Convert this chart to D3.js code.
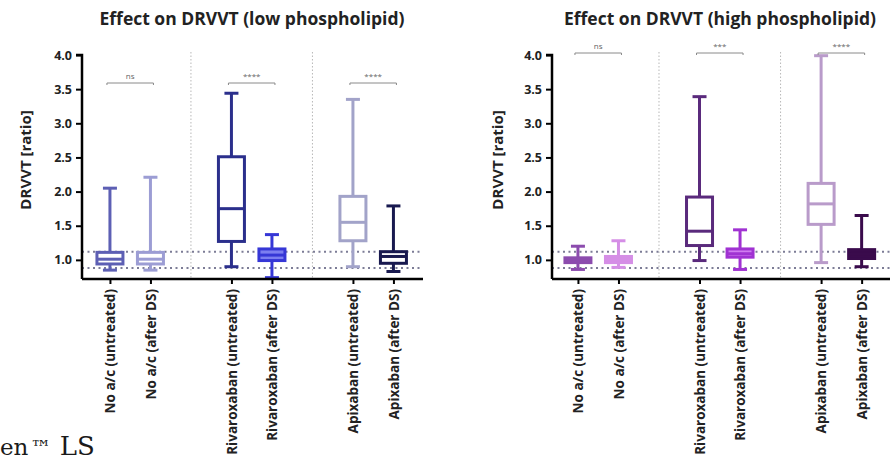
<!DOCTYPE html>
<html>
<head>
<meta charset="utf-8">
<script src="https://cdn.jsdelivr.net/npm/d3@7"></script>
<style>
  body { margin: 0; background: #fff; }
  svg { display: block; }
  .ticks text { font-family: "Open Sans", sans-serif; font-weight: 700; fill: #222; }
</style>
</head>
<body>
<div id="chart"></div>
<script>
// categories on the x axis (slot index leaves a gap between groups)
var categories = ["No a/c (untreated)", "No a/c (after DS)", "Rivaroxaban (untreated)", "Rivaroxaban (after DS)", "Apixaban (untreated)", "Apixaban (after DS)"];
var slots = [0, 1, 3, 4, 6, 7];
var separators = [2, 5];
var refLines = [1.12, 0.88];
var yTicks = [1.0, 1.5, 2.0, 2.5, 3.0, 3.5, 4.0];

// box stats: [min, q1, median, q3, max]
var lowStats = [
  [0.85, 0.94, 1.01, 1.11, 2.05],
  [0.85, 0.94, 1.01, 1.11, 2.21],
  [0.90, 1.27, 1.75, 2.51, 3.44],
  [0.74, 0.99, 1.07, 1.16, 1.37],
  [0.90, 1.28, 1.55, 1.93, 3.35],
  [0.83, 0.95, 1.05, 1.12, 1.79]
];
var highStats = [
  [0.86, 0.96, 0.99, 1.03, 1.20],
  [0.89, 0.96, 1.00, 1.05, 1.28],
  [0.99, 1.21, 1.42, 1.92, 3.39],
  [0.86, 1.04, 1.09, 1.16, 1.44],
  [0.96, 1.52, 1.82, 2.12, 3.99],
  [0.90, 1.02, 1.08, 1.15, 1.65]
];
var lowColors  = ["#5d5fb4", "#9c9dd4", "#2b2f8c", "#3637d6", "#a2a3c9", "#18194f"];
var lowFills   = ["#fff", "#fff", "#fff", "#7c7ef0", "#fff", "#fff"];
var highColors = ["#8c4cae", "#d58ee6", "#5a2a7c", "#a032d2", "#b99bca", "#3a0b4c"];
var highFills  = ["#8c4cae", "#d58ee6", "#fff", "#d07cf0", "#fff", "#3a0b4c"];

// significance brackets: [from slot, to slot, label]
var lowSig  = [[0, 1, "ns"], [3, 4, "****"], [6, 7, "****"]];
var highSig = [[0, 1, "ns"], [3, 4, "***"], [6, 7, "****"]];

var svg = d3.select("#chart").append("svg")
  .attr("width", 894)
  .attr("height", 462);

var y = d3.scaleLinear().domain([0.72, 4.0]).range([279, 55]);

function panel(opts) {
  var x = d3.scaleLinear().domain(opts.domain).range([opts.left, opts.right]);
  var g = svg.append("g");

  // title
  g.append("text")
    .attr("x", opts.titleX).attr("y", 25)
    .attr("text-anchor", "middle")
    .style("font-family", "Open Sans, sans-serif")
    .style("font-weight", 700)
    .style("font-size", "17.5px")
    .style("fill", "#222")
    .text(opts.title);

  // y label
  g.append("text")
    .attr("transform", "translate(" + opts.labelX + "," + 160 + ") rotate(-90)")
    .attr("text-anchor", "middle")
    .style("font-family", "Open Sans, sans-serif")
    .style("font-weight", 700)
    .style("font-size", "15px")
    .style("fill", "#222")
    .text("DRVVT [ratio]");

  // group separators
  g.selectAll(".sep").data(separators).enter().append("line")
    .attr("x1", function(d) { return x(d); })
    .attr("x2", function(d) { return x(d); })
    .attr("y1", 52).attr("y2", 279)
    .style("stroke", "#b8b8b8")
    .style("stroke-width", 1)
    .style("stroke-dasharray", "1.5,2");

  // reference lines
  g.selectAll(".ref").data(refLines).enter().append("line")
    .attr("x1", opts.left).attr("x2", opts.right)
    .attr("y1", function(d) { return y(d); })
    .attr("y2", function(d) { return y(d); })
    .style("stroke", "#7c7c96")
    .style("stroke-width", 2)
    .style("stroke-dasharray", "2,3.5");

  // boxes
  var data = opts.stats.map(function(s, i) {
    return {slot: slots[i], s: s, c: opts.colors[i], f: opts.fills[i]};
  });
  var bw = 26, cw = 14;
  var box = g.selectAll(".box").data(data).enter().append("g");
  box.append("line")
    .attr("x1", function(d) { return x(d.slot); })
    .attr("x2", function(d) { return x(d.slot); })
    .attr("y1", function(d) { return y(d.s[0]); })
    .attr("y2", function(d) { return y(d.s[4]); })
    .style("stroke", function(d) { return d.c; })
    .style("stroke-width", 3);
  box.selectAll(".cap").data(function(d) { return [d, d].map(function(e, k) { return {d: e, v: e.s[k * 4]}; }); })
    .enter().append("line")
    .attr("x1", function(e) { return x(e.d.slot) - cw / 2; })
    .attr("x2", function(e) { return x(e.d.slot) + cw / 2; })
    .attr("y1", function(e) { return y(e.v); })
    .attr("y2", function(e) { return y(e.v); })
    .style("stroke", function(e) { return e.d.c; })
    .style("stroke-width", 3);
  box.append("rect")
    .attr("x", function(d) { return x(d.slot) - bw / 2; })
    .attr("y", function(d) { return y(d.s[3]); })
    .attr("width", bw)
    .attr("height", function(d) { return y(d.s[1]) - y(d.s[3]); })
    .style("fill", function(d) { return d.f; })
    .style("stroke", function(d) { return d.c; })
    .style("stroke-width", 3);
  box.append("line")
    .attr("x1", function(d) { return x(d.slot) - bw / 2; })
    .attr("x2", function(d) { return x(d.slot) + bw / 2; })
    .attr("y1", function(d) { return y(d.s[2]); })
    .attr("y2", function(d) { return y(d.s[2]); })
    .style("stroke", function(d) { return d.c; })
    .style("stroke-width", 3);

  // significance brackets
  var sig = g.selectAll(".sig").data(opts.sig).enter().append("g");
  sig.append("path")
    .attr("d", function(d) {
      var x1 = x(d[0]) - 3, x2 = x(d[1]) + 3, yy = opts.sigY;
      return "M" + x1 + "," + (yy + 2) + "V" + yy + "H" + x2 + "V" + (yy + 2);
    })
    .style("fill", "none")
    .style("stroke", "#8a8a8a")
    .style("stroke-width", 1);
  sig.append("text")
    .attr("x", function(d) { return (x(d[0]) + x(d[1])) / 2; })
    .attr("y", opts.sigY - 4)
    .attr("text-anchor", "middle")
    .style("font-family", "Open Sans, sans-serif")
    .style("font-size", "8px")
    .style("fill", "#666")
    .text(function(d) { return d[2]; });

  // y axis
  g.append("g").attr("class", "ticks")
    .attr("transform", "translate(" + opts.left + ",0)")
    .call(d3.axisLeft(y).tickValues(yTicks).tickFormat(d3.format(".1f")).tickSize(6).tickPadding(4))
    .call(function(a) {
      a.selectAll("text").style("font-size", "12.5px");
      a.select(".domain").style("stroke-width", 2.5).attr("d", "M-6,55H0V279");
      a.selectAll(".tick line").style("stroke-width", 2);
    });

  // x axis
  g.append("g").attr("class", "ticks")
    .attr("transform", "translate(0,279)")
    .call(d3.axisBottom(x).tickValues(slots).tickFormat(function(d) { return categories[slots.indexOf(d)]; }).tickSize(5).tickPadding(6))
    .call(function(a) {
      a.select(".domain").style("stroke-width", 2.5).attr("d", "M" + opts.left + ",0H" + opts.right);
      a.selectAll(".tick line").style("stroke-width", 2);
      a.selectAll("text")
        .style("font-size", "13.5px")
        .attr("text-anchor", "end")
        .attr("transform", "rotate(-90)")
        .attr("x", -10).attr("y", 0).attr("dy", "0.35em");
    });
}

panel({left: 82, right: 423, domain: [-0.69, 7.73], title: "Effect on DRVVT (low phospholipid)", titleX: 252, labelX: 31,
  stats: lowStats, colors: lowColors, fills: lowFills, sig: lowSig, sigY: 83});
panel({left: 552, right: 890, domain: [-0.64, 7.70], title: "Effect on  DRVVT (high phospholipid)", titleX: 720, labelX: 503,
  stats: highStats, colors: highColors, fills: highFills, sig: highSig, sigY: 53});

// fragment of page text at lower left
var frag = svg.append("text")
  .attr("x", 0).attr("y", 455)
  .style("font-family", "DejaVu Serif, serif")
  .style("font-size", "23px")
  .style("fill", "#1a1a1a");
frag.append("tspan").text("en");
frag.append("tspan").attr("dx", 2).style("font-size", "21px").text("\u2122");
frag.append("tspan").style("font-size", "26px").text(" LS");
</script>
</body>
</html>
